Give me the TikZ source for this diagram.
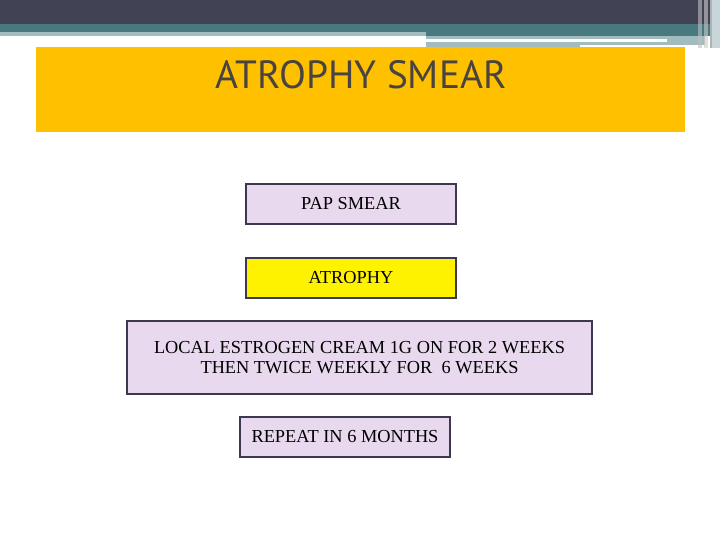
\documentclass[tikz,border=0pt]{standalone}
\usepackage{fontspec}
\setmainfont{Liberation Serif}
\newfontfamily\titlefont{PT Sans}
\definecolor{darkband}{HTML}{414254}
\definecolor{tealband}{HTML}{47797E}
\definecolor{lightband}{HTML}{A2BBBF}
\definecolor{titlebg}{HTML}{FFC000}
\definecolor{titletext}{HTML}{4A4440}
\definecolor{lav}{HTML}{E8D9EE}
\definecolor{boxline}{HTML}{3B3850}
\tikzset{
  flowbox/.style={draw=boxline, line width=2bp, fill=lav, font=\fontsize{18.4}{20.5}\selectfont, align=center, inner sep=0pt},
}
\begin{document}
\begin{tikzpicture}[x=1bp,y=-1bp]
\useasboundingbox (0,0) rectangle (720,540);
\fill[white] (0,0) rectangle (720,540);
% top bands
\fill[darkband] (0,0) rectangle (720,24);
\fill[tealband] (0,24) rectangle (720,32);
\fill[tealband] (426,32) rectangle (720,36);
\fill[lightband] (0,32) rectangle (426,36);
\fill[lightband] (426,36) rectangle (705,47);
\fill[white] (426,39) rectangle (667,42);
\fill[white] (580,45) rectangle (705,47);
% right vertical lines
\fill[gray!50, opacity=0.6] (698,0) rectangle (702,48);
\fill[gray!40, opacity=0.6] (704,0) rectangle (708,48);
\fill[lightband!60] (710,0) rectangle (720,48);
\fill[gray!60] (710,0) rectangle (712,48);
% title box
\fill[titlebg] (36,47) rectangle (685,132);
\node[font=\titlefont\fontsize{39.5}{44}\selectfont, text=titletext, anchor=base] (title) at (361,89) {ATROPHY SMEAR};
% flow boxes
\node[flowbox, minimum width=210bp, minimum height=40bp] (pap) at (351,204) {PAP SMEAR};
\node[flowbox, fill=yellow, minimum width=210bp, minimum height=40bp] (atr) at (351,278) {ATROPHY};
\node[flowbox, minimum width=465bp, minimum height=73bp] (est) at (359.5,357.5) {LOCAL ESTROGEN CREAM 1G ON FOR 2 WEEKS\\THEN TWICE WEEKLY FOR \ 6 WEEKS};
\node[flowbox, minimum width=210bp, minimum height=40bp] (rep) at (345,437) {REPEAT IN 6 MONTHS};
\end{tikzpicture}
\end{document}
